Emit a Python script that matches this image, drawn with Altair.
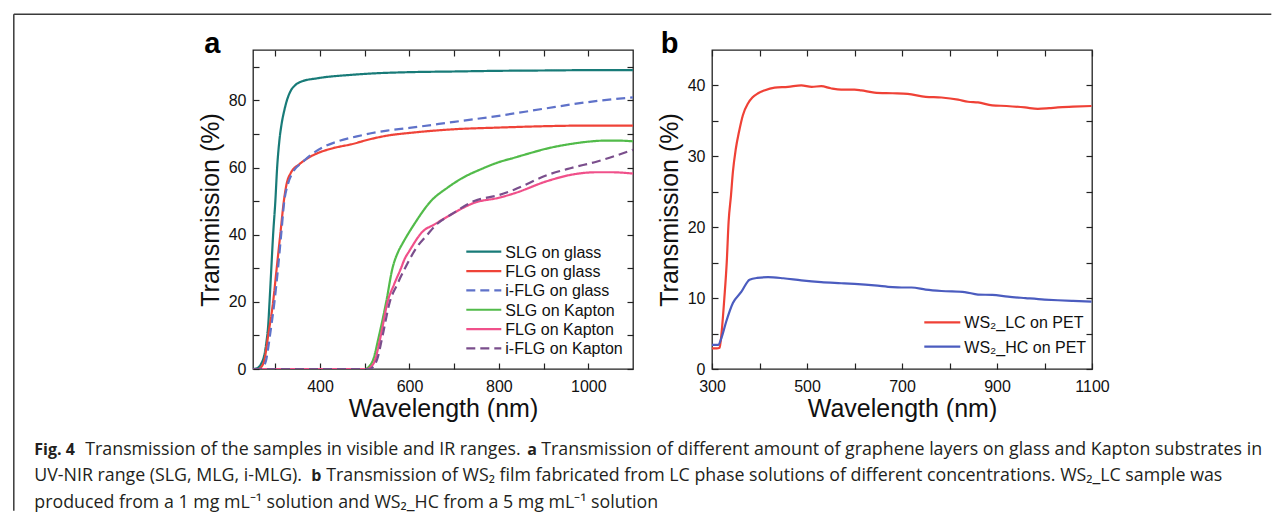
import altair as alt
import pandas as pd

# ---------------- Panel a : graphene on glass / Kapton ----------------
A_SERIES = ["SLG on glass", "FLG on glass", "i-FLG on glass",
            "SLG on Kapton", "FLG on Kapton", "i-FLG on Kapton"]
A_COLORS = ["#187b78", "#ef4338", "#5f72c9", "#52bb4a", "#f0508a", "#7a4e8c"]
A_DASH = [[1, 0], [1, 0], [9, 5], [1, 0], [1, 0], [9, 5]]

SLG_GLASS_NM = [250, 260, 268, 275, 280, 284, 287, 291, 295, 300, 304, 309, 314, 320, 327, 335,
                345, 358, 395, 470, 515, 600, 700, 800, 900, 1000, 1100]
SLG_GLASS_T = [0, 0.3, 1.5, 4, 8, 13, 20, 30, 40, 50, 60, 68, 73, 77, 80.5, 83,
               84.6, 85.6, 86.6, 87.6, 88, 88.4, 88.6, 88.8, 88.9, 89, 89]

FLG_GLASS_NM = [250, 262, 268, 276, 284, 295, 303, 311, 319, 325, 335, 354, 375, 395, 430, 469,
                514, 550, 600, 700, 800, 900, 1000, 1100]
FLG_GLASS_T = [0, 0, 0.5, 3, 10, 20, 30, 40, 50, 55, 58.5, 61, 63, 64.3, 65.8, 66.9,
               68.5, 69.5, 70.3, 71.4, 71.9, 72.3, 72.5, 72.5]

IFLG_GLASS_NM = [250, 265, 272, 280, 288, 298, 306, 313, 320, 328, 340, 360, 380, 406, 440, 480,
                 514, 550, 600, 700, 800, 900, 1000, 1100]
IFLG_GLASS_T = [0, 0, 0.5, 3, 10, 20, 30, 40, 50, 55, 58.8, 61.5, 63.8, 66, 67.8, 69.2,
                70.2, 71, 71.8, 73.6, 75.4, 77.5, 79.5, 80.9]

SLG_KAPTON_NM = [250, 500, 510, 518, 532, 548, 562, 575, 585, 610, 648, 685, 720, 760, 800, 834,
                 870, 909, 960, 1000, 1034, 1070, 1100]
SLG_KAPTON_T = [0, 0, 0.8, 2.5, 10, 20, 30, 35, 37.5, 43, 50, 54, 57, 59.5, 61.6, 62.9,
                64.3, 65.7, 67, 67.7, 68, 68, 67.8]

FLG_KAPTON_NM = [250, 505, 515, 521, 536, 551, 565, 581, 590, 599, 630, 655, 693, 745, 800, 834,
                 909, 960, 1020, 1050, 1100]
FLG_KAPTON_T = [0, 0, 0.8, 2, 10, 20, 25, 30, 33, 35, 41, 43, 46, 49.5, 51, 52.3,
                56, 57.8, 58.6, 58.6, 58.2]

IFLG_KAPTON_NM = [250, 510, 520, 528, 540, 556, 572, 590, 615, 640, 660, 693, 745, 800, 834,
                  909, 960, 1020, 1100]
IFLG_KAPTON_T = [0, 0, 0.8, 3, 10, 20, 25, 30, 36, 40, 43, 46, 50, 51.8, 53.4,
                 57.8, 59.8, 61.8, 65.3]

# ---------------- Panel b : WS2 films on PET ----------------
B_SERIES = ["WS\u2082_LC on PET", "WS\u2082_HC on PET"]
B_COLORS = ["#ef4136", "#4b5cbf"]

LC_NM = [300, 310, 316, 320, 326, 331, 335, 340, 344, 350, 357, 365, 376, 385, 397, 410, 432,
         460, 488, 510, 530, 550, 572, 600, 614, 642, 680, 712, 750, 783, 818, 839, 860, 890,
         920, 959, 986, 1010, 1028, 1060, 1099]
LC_T = [2.9, 2.9, 3.0, 5, 10, 15, 20.8, 24.5, 27.8, 31, 33.5, 35.8, 37.5, 38.3, 38.9, 39.3, 39.7,
        39.8, 40, 39.8, 39.9, 39.6, 39.4, 39.4, 39.3, 39.0, 38.9, 38.8, 38.4, 38.3, 38.0, 37.7,
        37.6, 37.2, 37.1, 36.9, 36.7, 36.8, 36.9, 37.0, 37.1]

HC_NM = [300, 313, 320, 330, 344, 362, 379, 395, 418, 450, 488, 530, 572, 600, 642, 680, 699,
         720, 750, 783, 832, 860, 890, 923, 960, 1000, 1028, 1060, 1099]
HC_T = [3.4, 3.4, 4.4, 6.7, 9.3, 10.9, 12.6, 12.85, 12.95, 12.8, 12.5, 12.25, 12.1, 12.0, 11.8,
        11.55, 11.5, 11.5, 11.2, 11.0, 10.85, 10.5, 10.45, 10.2, 10.0, 9.8, 9.7, 9.6, 9.5]

# ---------------- Caption text ----------------
CAPTION_BOLD = ["Fig. 4", "a", "b"]
CAPTION_PLAIN = [
    "Transmission of the samples in visible and IR ranges.",
    "Transmission of different amount of graphene layers on glass and Kapton substrates in",
    "UV-NIR range (SLG, MLG, i-MLG).",
    "Transmission of WS\u2082 film fabricated from LC phase solutions of different concentrations. WS\u2082_LC sample was",
    "produced from a 1 mg mL\u207b\u00b9 solution and WS\u2082_HC from a 5 mg mL\u207b\u00b9 solution",
]

# ---------------- tables ----------------
a_parts = [(SLG_GLASS_NM, SLG_GLASS_T), (FLG_GLASS_NM, FLG_GLASS_T), (IFLG_GLASS_NM, IFLG_GLASS_T),
           (SLG_KAPTON_NM, SLG_KAPTON_T), (FLG_KAPTON_NM, FLG_KAPTON_T),
           (IFLG_KAPTON_NM, IFLG_KAPTON_T)]
rows = []
for name, (xs, ys) in zip(A_SERIES, a_parts):
    for i, (x, y) in enumerate(zip(xs, ys)):
        rows.append({"series": name, "nm": x, "T": y, "i": i})
df_a = pd.DataFrame(rows)

rows = []
for name, (xs, ys) in zip(B_SERIES, [(LC_NM, LC_T), (HC_NM, HC_T)]):
    for i, (x, y) in enumerate(zip(xs, ys)):
        rows.append({"sample": name, "nm": x, "T": y, "i": i})
df_b = pd.DataFrame(rows)

FONT = "Liberation Sans"
CAP_FONT = "Open Sans"
W, H = 380, 319
OX, OY = 251.7, 48.3          # page position of panel a plot area
SPACING = 79
OXB = OX + W + SPACING        # page position of panel b plot area


def main_axes(xvals, xexpr, yvals, yexpr):
    xa = alt.Axis(orient="bottom", values=xvals, labelExpr=xexpr, format="d",
                  title="Wavelength (nm)", offset=-6, tickSize=6, domain=False, grid=False,
                  labelPadding=9, titlePadding=2, labelFlush=False, labelOverlap=False)
    ya = alt.Axis(orient="left", values=yvals, labelExpr=yexpr, format="d",
                  title="Transmission (%)", offset=-6, tickSize=6, domain=False, grid=False,
                  labelPadding=7, titlePadding=5, labelFlush=False, labelOverlap=False)
    return xa, ya


def mirror_axes(xvals, yvals):
    xa = alt.Axis(orient="top", values=xvals, labels=False, title=None, offset=-6,
                  tickSize=6, domain=False, grid=False)
    ya = alt.Axis(orient="right", values=yvals, labels=False, title=None, offset=-6,
                  tickSize=6, domain=False, grid=False)
    return xa, ya


def one(t=""):
    return pd.DataFrame({"t": [t]})


def legend_layers(names, colors, dashes, ox, oy, x0, x1, xt, y0, dy):
    out = []
    for k, (nm, col, ds) in enumerate(zip(names, colors, dashes)):
        yc = y0 + k * dy
        out.append(alt.Chart(one()).mark_rule(color=col, strokeWidth=2.2, strokeDash=ds).encode(
            x=alt.value(x0 - ox), x2=alt.value(x1 - ox), y=alt.value(yc - oy)))
        out.append(alt.Chart(one(nm)).mark_text(font=FONT, fontSize=16, align="left",
                                                baseline="middle", color="#111").encode(
            x=alt.value(xt - ox), y=alt.value(yc - oy + 1), text="t:N"))
    return out


# ---- panel a ----
xs_a = alt.Scale(domain=[250, 1100], nice=False, zero=False)
ys_a = alt.Scale(domain=[0, 95], nice=False)
xa_vals = list(range(300, 1001, 100))
ya_vals = list(range(0, 91, 10))
ax_x, ax_y = main_axes(xa_vals, "datum.value % 200 == 0 ? datum.label : ''",
                       ya_vals, "datum.value % 20 == 0 ? datum.label : ''")
mx_x, mx_y = mirror_axes(xa_vals, ya_vals)

lines_a = alt.Chart(df_a).mark_line(strokeWidth=2.2, interpolate="monotone", clip=True).encode(
    x=alt.X("nm:Q", scale=xs_a, axis=ax_x),
    y=alt.Y("T:Q", scale=ys_a, axis=ax_y),
    color=alt.Color("series:N", scale=alt.Scale(domain=A_SERIES, range=A_COLORS), legend=None),
    strokeDash=alt.StrokeDash("series:N", scale=alt.Scale(domain=A_SERIES, range=A_DASH),
                              legend=None),
    order="i:Q",
)
mirror_a = alt.Chart(df_a).mark_line(opacity=0).encode(
    x=alt.X("nm:Q", scale=xs_a, axis=mx_x),
    y=alt.Y("T:Q", scale=ys_a, axis=mx_y),
    detail="series:N",
)

legend_a = legend_layers(A_SERIES, A_COLORS, A_DASH, OX, OY, 465, 500, 504, 250, 19.35)

border_col = "#3a3a3a"
border_top = alt.Chart(one()).mark_rule(color=border_col, strokeWidth=1.5).encode(
    x=alt.value(12.5 - OX), x2=alt.value(1270 - OX), y=alt.value(12.5 - OY))
border_left = alt.Chart(one()).mark_rule(color=border_col, strokeWidth=1.5).encode(
    x=alt.value(12.5 - OX), y=alt.value(12.5 - OY), y2=alt.value(509 - OY))

label_a = alt.Chart(one("a")).mark_text(font=FONT, fontSize=29, fontWeight="bold", align="left",
                                        baseline="alphabetic", color="#000").encode(
    x=alt.value(203 - OX), y=alt.value(51.7 - OY), text="t:N")


def cap(text, px, py, bold=False):
    return alt.Chart(one(text)).mark_text(
        font=CAP_FONT, fontSize=16 if bold else 17.8, fontWeight="bold" if bold else "normal",
        align="left", baseline="alphabetic", color="#231f20").encode(
        x=alt.value(px - OX), y=alt.value(py - OY), text="t:N")


caps = [
    cap(CAPTION_BOLD[0], 33, 453, True),
    cap(CAPTION_PLAIN[0], 84, 453),
    cap(CAPTION_BOLD[1], 526, 453, True),
    cap(CAPTION_PLAIN[1], 540, 453),
    cap(CAPTION_PLAIN[2], 33, 479.5),
    cap(CAPTION_BOLD[2], 310, 479.5, True),
    cap(CAPTION_PLAIN[3], 325, 479.5),
    cap(CAPTION_PLAIN[4], 33, 506),
]

panel_a = alt.layer(lines_a, mirror_a, *legend_a, border_top, border_left, label_a,
                    *caps).resolve_axis(x="independent", y="independent").properties(
    width=W, height=H)

# ---- panel b ----
xs_b = alt.Scale(domain=[300, 1100], nice=False, zero=False)
ys_b = alt.Scale(domain=[0, 45], nice=False)
xb_vals = list(range(300, 1101, 100))
yb_vals = list(range(0, 41, 5))
bx_x, bx_y = main_axes(xb_vals, "(datum.value - 300) % 200 == 0 ? datum.label : ''",
                       yb_vals, "datum.value % 10 == 0 ? datum.label : ''")
bm_x, bm_y = mirror_axes(xb_vals, yb_vals)

lines_b = alt.Chart(df_b).mark_line(strokeWidth=2.2, interpolate="monotone", clip=True).encode(
    x=alt.X("nm:Q", scale=xs_b, axis=bx_x),
    y=alt.Y("T:Q", scale=ys_b, axis=bx_y),
    color=alt.Color("sample:N", scale=alt.Scale(domain=B_SERIES, range=B_COLORS), legend=None),
    order="i:Q",
)
mirror_b = alt.Chart(df_b).mark_line(opacity=0).encode(
    x=alt.X("nm:Q", scale=xs_b, axis=bm_x),
    y=alt.Y("T:Q", scale=ys_b, axis=bm_y),
    detail="sample:N",
)
legend_b = legend_layers(B_SERIES, B_COLORS, [[1, 0], [1, 0]], OXB, OY, 923, 959, 963, 320.7, 24.3)

label_b = alt.Chart(one("b")).mark_text(font=FONT, fontSize=29, fontWeight="bold", align="left",
                                        baseline="alphabetic", color="#000").encode(
    x=alt.value(659.5 - OXB), y=alt.value(51.7 - OY), text="t:N")

panel_b = alt.layer(lines_b, mirror_b, *legend_b, label_b).resolve_axis(
    x="independent", y="independent").properties(width=W, height=H)

chart = alt.hconcat(panel_a, panel_b, spacing=SPACING, bounds="flush").resolve_scale(
    color="independent", strokeDash="independent"
).properties(
    padding={"left": 4, "top": 4, "right": 0, "bottom": 0}
).configure_view(
    stroke="#222", strokeWidth=1.3
).configure_axis(
    labelFont=FONT, labelFontSize=16, labelColor="#111", titleFont=FONT, titleFontSize=25,
    titleFontWeight="normal", titleColor="#111", tickColor="#222", tickWidth=1.2
)

chart.save("out.html", embed_options={"renderer": "svg", "actions": False})
